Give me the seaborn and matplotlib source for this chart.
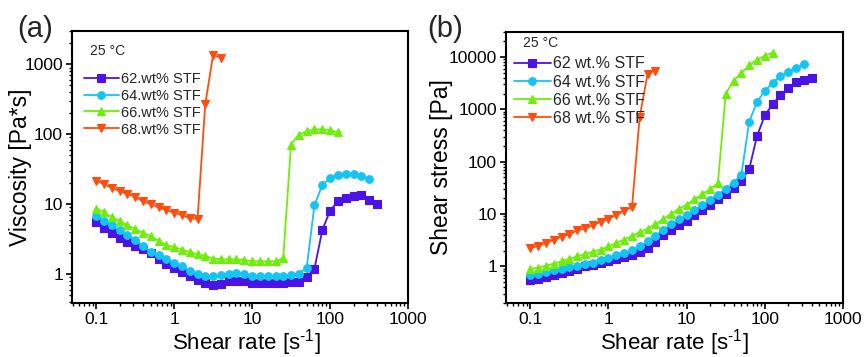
import pandas as pd
import matplotlib
matplotlib.use('Agg')
from matplotlib import pyplot as plt
from matplotlib.ticker import LogLocator, NullFormatter
import seaborn as sns

# shear rate grid (s^-1), shared by all curves
shear_rate = [0.1, 0.126, 0.158, 0.2, 0.251, 0.316, 0.398, 0.501, 0.631, 0.794,
              1.0, 1.26, 1.58, 2.0, 2.51, 3.16, 3.98, 5.01, 6.31, 7.94,
              10.0, 12.6, 15.8, 20.0, 25.1, 31.6, 39.8, 50.1, 63.1, 79.4,
              100.0, 126.0, 158.0, 200.0, 251.0, 316.0, 398.0]

# viscosity [Pa*s]
visc_62 = [5.5, 4.5, 3.85, 3.3, 2.87, 2.54, 2.28, 2.0, 1.66, 1.39,
           1.2, 1.06, 0.94, 0.82, 0.75, 0.70, 0.73, 0.79, 0.80, 0.79,
           0.74, 0.74, 0.75, 0.74, 0.74, 0.76, 0.78, 0.9, 1.19, 4.2,
           8.1, 10.9, 12.3, 13.1, 13.5, 11.6, 10.1]
visc_64 = [6.8, 5.8, 5.0, 4.2, 3.6, 3.06, 2.5, 2.08, 1.85, 1.62,
           1.44, 1.29, 1.12, 1.01, 0.94, 0.94, 0.96, 1.0, 1.02, 1.0,
           0.94, 0.94, 0.94, 0.94, 0.94, 0.96, 1.01, 1.22, 9.6, 18.6,
           23.4, 26.4, 27.4, 27.4, 25.0, 23.2]
visc_66 = [8.6, 7.6, 6.5, 5.7, 5.0, 4.4, 3.9, 3.5, 3.0, 2.6,
           2.43, 2.23, 2.06, 1.91, 1.81, 1.66, 1.62, 1.62, 1.62, 1.58,
           1.53, 1.52, 1.52, 1.52, 1.69, 71, 99, 110, 117, 118,
           114, 106]
visc_68 = [21.5, 19.5, 17.0, 15.5, 14.0, 12.8, 11.0, 10.0, 9.0, 8.2,
           7.5, 7.0, 6.3, 6.2, 270, 1350, 1250]

# shear stress [Pa]
stress_62 = [0.54, 0.58, 0.63, 0.68, 0.74, 0.81, 0.9, 1.0, 1.08, 1.15,
             1.25, 1.38, 1.52, 1.68, 1.9, 2.25, 2.9, 3.9, 5.0, 6.2,
             7.5, 9.5, 12, 15, 19, 24, 31, 43, 72, 309,
             765, 1260, 1840, 2500, 3340, 3650, 3930]
stress_64 = [0.68, 0.73, 0.79, 0.84, 0.9, 0.97, 1.03, 1.1, 1.18, 1.3,
             1.45, 1.62, 1.8, 2.05, 2.4, 3.0, 3.85, 5.0, 6.4, 7.9,
             9.5, 11.8, 14.9, 18.8, 23.6, 30, 40, 56, 578, 1390,
             2250, 3200, 4290, 5250, 6090, 7260]
stress_66 = [0.88, 0.95, 1.03, 1.13, 1.25, 1.39, 1.55, 1.73, 1.9, 2.1,
             2.4, 2.8, 3.25, 3.8, 4.5, 5.25, 6.4, 8.0, 10.1, 12.4,
             15.2, 19, 24, 30, 39, 2000, 3490, 5000, 6900, 8900,
             10500, 12100]
stress_68 = [2.2, 2.5, 2.8, 3.2, 3.7, 4.1, 4.85, 5.3, 6.1, 7.1,
             8.1, 9.6, 11.5, 13.5, 720, 4700, 5500]

labels_a = ['62.wt% STF', '64.wt% STF', '66.wt% STF', '68.wt% STF']
labels_b = ['62 wt.% STF', '64 wt.% STF', '66 wt.% STF', '68 wt.% STF']
colors = ['#4B13E6', '#14C4F2', '#6EEE0A', '#FF4D0D']
markers = ['s', 'o', '^', 'v']

sns.set_theme(style='ticks')
plt.rcParams['font.family'] = ['Liberation Sans', 'DejaVu Sans']
plt.rcParams['mathtext.fontset'] = 'custom'
plt.rcParams['mathtext.rm'] = 'Liberation Sans'
plt.rcParams['mathtext.it'] = 'Liberation Sans:italic'

fig = plt.figure(figsize=(8.65, 3.57), dpi=100)
ax_a = fig.add_axes([0.0832, 0.1513, 0.3885, 0.762])
ax_b = fig.add_axes([0.585, 0.1513, 0.3896, 0.7591])

xlab = r'Shear rate [s$^{\text{-1}}$]'


def draw(ax, series, labels):
    ax.set_xscale('log')
    ax.set_yscale('log')
    for vals, lab, col, mk in zip(series, labels, colors, markers):
        df = pd.DataFrame({'rate': shear_rate[:len(vals)], 'val': vals})
        sns.lineplot(data=df, x='rate', y='val', ax=ax, color=col, marker=mk,
                     markersize=5.5, markeredgecolor=col, markeredgewidth=0.8,
                     linewidth=1.3, label=lab)
    ax.set_xlim(0.049, 1000)
    ax.set_xticks([0.1, 1, 10, 100, 1000], labels=['0.1', '1', '10', '100', '1000'])
    ax.xaxis.set_minor_locator(LogLocator(base=10, subs=range(2, 10), numticks=20))
    ax.yaxis.set_minor_locator(LogLocator(base=10, subs=range(2, 10), numticks=20))
    ax.xaxis.set_minor_formatter(NullFormatter())
    ax.yaxis.set_minor_formatter(NullFormatter())
    ax.tick_params(which='major', direction='out', length=4, width=1.2,
                   labelsize=12.5, pad=2.5, colors='black')
    ax.tick_params(which='minor', direction='out', length=2, width=1.0, colors='black')
    ax.tick_params(top=False, right=False, which='both')
    for sp in ax.spines.values():
        sp.set_linewidth(1.5)
        sp.set_color('black')
    ax.set_xlabel(xlab, fontsize=16, color='black')


draw(ax_a, [visc_62, visc_64, visc_66, visc_68], labels_a)
ax_a.set_ylim(0.385, 3000)
ax_a.set_yticks([1, 10, 100, 1000], labels=['1', '10', '100', '1000'])
ax_a.yaxis.set_minor_formatter(NullFormatter())
ax_a.set_ylabel('Viscosity [Pa*s]', fontsize=16.5, color='black')
ax_a.yaxis.set_label_coords(-0.12, 0.5)
ax_a.xaxis.set_label_coords(0.52, -0.088)
ax_a.text(0.054, 0.925, '25 °C', transform=ax_a.transAxes, fontsize=10, va='center')
ax_a.legend(loc='upper left', bbox_to_anchor=(0.035, 0.85), frameon=False,
            fontsize=10.5, handlelength=2.4, handletextpad=0.15,
            labelspacing=0.2, borderaxespad=0, borderpad=0)

draw(ax_b, [stress_62, stress_64, stress_66, stress_68], labels_b)
ax_b.set_ylim(0.2, 30000)
ax_b.set_yticks([1, 10, 100, 1000, 10000], labels=['1', '10', '100', '1000', '10000'])
ax_b.yaxis.set_minor_formatter(NullFormatter())
ax_b.set_ylabel('Shear stress [Pa]', fontsize=16.5, color='black')
ax_b.yaxis.set_label_coords(-0.157, 0.5)
ax_b.xaxis.set_label_coords(0.5, -0.088)
ax_b.text(0.05, 0.96, '25 °C', transform=ax_b.transAxes, fontsize=10, va='center')
ax_b.legend(loc='upper left', bbox_to_anchor=(0.024, 0.91), frameon=False,
            fontsize=11.5, handlelength=2.3, handletextpad=0.15,
            labelspacing=0.2, borderaxespad=0, borderpad=0)

fig.text(0.0197, 0.896, '(a)', fontsize=21, va='baseline')
fig.text(0.494, 0.896, '(b)', fontsize=21, va='baseline')

fig.savefig('out.png', dpi=100)
